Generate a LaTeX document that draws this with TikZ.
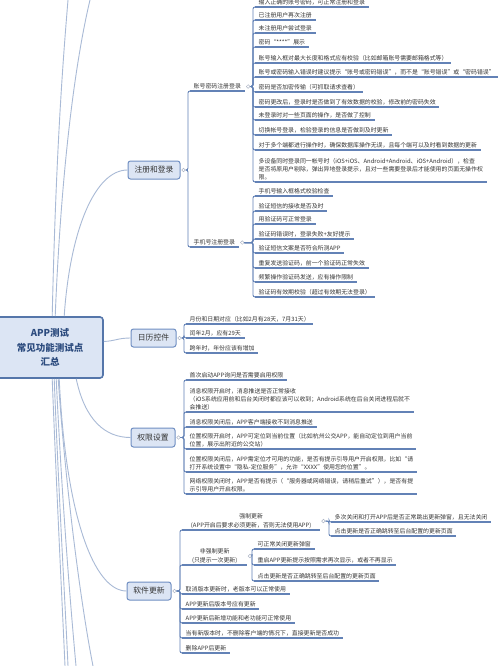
\documentclass[tikz,border=0pt]{standalone}
\usepackage{fontspec}
\setmainfont{Noto Sans CJK SC}
\newfontfamily\fwqfont[RawFeature=+fwid]{Noto Sans CJK SC}
\newcommand\qo{{\fwqfont “}}
\newcommand\qc{{\fwqfont ”}}
\usetikzlibrary{calc}
\definecolor{ulc}{HTML}{6382B6}
\definecolor{trk}{HTML}{A9BAD6}
\definecolor{boxf}{HTML}{DCE5F4}
\definecolor{boxb}{HTML}{6F8EC2}
\definecolor{rootb}{HTML}{5576AA}
\definecolor{roott}{HTML}{2C4B7E}
\definecolor{txt}{HTML}{353535}
\definecolor{hdlc}{HTML}{AEB6C6}
\tikzset{
  leaf/.style={anchor=south west, inner xsep=3.5pt, inner ysep=1.5pt, align=left,
    font=\fontsize{5.9}{8.3}\selectfont, text=txt},
  ul/.style={draw=ulc, line width=1.1pt},
  br/.style={draw=ulc, line width=0.9pt, rounded corners=2pt},
  box/.style={draw=boxb, fill=boxf, line width=1pt, rounded corners=2.5pt,
    font=\fontsize{7.8}{9}\selectfont, text=txt, inner sep=0, minimum height=18pt},
  rootbox/.style={draw=rootb, fill=boxf, line width=1.6pt, rounded corners=3pt,
    font=\fontsize{9.5}{14.5}\selectfont\bfseries, text=roott, align=center,
    inner sep=0, minimum width=106pt, minimum height=61pt},
  hdl/.style={circle, draw=hdlc, line width=0.5pt, fill=white, inner sep=0,
    minimum size=3.6pt, anchor=west},
  trunk/.style={draw=trk, line width=0.9pt}
}
\begin{document}
\begin{tikzpicture}[x=1pt,y=-1pt]
\useasboundingbox (0,0) rectangle (500,666);
\clip (0,0) rectangle (500,666);
\fill[white] (0,0) rectangle (500,666);

% root and first-level boxes
\node[rootbox] (root) at (50,347.5) {APP测试\\常见功能测试点\\汇总};
\node[box, minimum width=52pt] (L1) at (154,170) {注册和登录};
\node[box, minimum width=45pt] (L2) at (153.5,338) {日历控件};
\node[box, minimum width=44pt, minimum height=19pt] (L3) at (153,437.5) {权限设置};
\node[box, minimum width=44pt] (L4) at (149,591) {软件更新};

% off-frame ends of trunk lines
\coordinate (o1) at (68,0);
\coordinate (o2) at (90,0);
\coordinate (o3) at (65,666);
\coordinate (o4) at (68,666);
\coordinate (o5) at (76,666);
\coordinate (o6) at (93,666);

\draw[trunk] ($(root.north west)+(68,0)$) .. controls (70,230) and (95,170) .. (L1.west);
\draw[trunk] ($(root.east)+(0,-6)$) .. controls (115,341) and (118,338) .. (L2.west);
\draw[trunk] ($(root.south west)+(80,0)$) .. controls (85,420) and (105,437.5) .. (L3.west);
\draw[trunk] ($(root.south west)+(63,0)$) .. controls (66,520) and (95,591) .. (L4.west);
\draw[trunk] ($(root.north west)+(56,0)$) .. controls (56,150) and (63,60) .. (o1);
\draw[trunk] ($(root.north west)+(59,0)$) .. controls (62,150) and (78,50) .. (o2);
\draw[trunk] ($(root.south west)+(56,0)$) .. controls (57,500) and (62,600) .. (o3);
\draw[trunk] ($(root.south west)+(58,0)$) .. controls (59,500) and (65,600) .. (o4);
\draw[trunk] ($(root.south west)+(60,0)$) .. controls (62,500) and (70,600) .. (o5);
\draw[trunk] ($(root.south west)+(62,0)$) .. controls (65,480) and (80,600) .. (o6);

% ---------- 注册和登录 ----------
\node[leaf] (P1) at (190,91) {账号密码注册登录};
\node[leaf] (P2) at (190,247) {手机号注册登录};

\node[leaf] (a1) at (255,7) {输入正确的账号密码，可正常注册和登录};
\node[leaf] (a2) at (255,20) {已注册用户再次注册};
\node[leaf] (a3) at (255,33) {未注册用户尝试登录};
\node[leaf] (a4) at (255,47) {密码\qo****\qc 展示};
\node[leaf] (a5) at (255,63) {账号输入框对最大长度和格式应有校验（比如邮箱账号需要邮箱格式等）};
\node[leaf] (a6) at (255,77) {账号或密码输入错误时建议提示\qo 账号或密码错误\qc ，而不是\qo 账号错误\qc 或\qo 密码错误\qc};
\node[leaf] (a7) at (255,92) {密码是否加密传输（可抓取请求查看）};
\node[leaf] (a8) at (255,107) {密码更改后，登录时是否做到了有效数据的校验，修改前的密码失效};
\node[leaf] (a9) at (255,120) {未登录时对一些页面的操作，是否做了控制};
\node[leaf] (a10) at (255,135) {切换帐号登录，检验登录的信息是否做到及时更新};
\node[leaf] (a11) at (255,150) {对于多个端都进行操作时，确保数据库操作无误，且每个端可以及时看到数据的更新};
\node[leaf] (a12) at (255,182) {多设备同时登录同一帐号时（iOS+iOS、Android+Android、iOS+Android），检查\\是否将原用户剔除，弹出异地登录提示，且对一些需要登录后才能使用的页面无操作权\\限。};

\node[leaf] (b1) at (255,196) {手机号输入框格式校验检查};
\node[leaf] (b2) at (255,211) {验证短信的接收是否及时};
\node[leaf] (b3) at (255,224) {用验证码可正常登录};
\node[leaf] (b4) at (255,239) {验证码错误时，登录失败+友好提示};
\node[leaf] (b5) at (255,253) {验证短信文案是否符合所测APP};
\node[leaf] (b6) at (255,268) {重复发送验证码，前一个验证码正常失效};
\node[leaf] (b7) at (255,282) {频繁操作验证码发送，应有操作限制};
\node[leaf] (b8) at (255,297) {验证码有效期校验（超过有效期无法登录）};

% ---------- 日历控件 ----------
\node[leaf] (c1) at (186,324) {月份和日期对应（比如2月有28天，7月31天）};
\node[leaf] (c2) at (186,338) {闰年2月，应有29天};
\node[leaf] (c3) at (186,353) {跨年时，年份应该有增加};

% ---------- 权限设置 ----------
\node[leaf] (d1) at (186,380) {首次启动APP询问是否需要启用权限};
\node[leaf] (d2) at (186,412) {消息权限开启时，消息推送是否正常接收\\（iOS系统应用前和后台关闭时都应该可以收到；Android系统在后台关闭进程后就不\\会推送）};
\node[leaf] (d3) at (186,427) {消息权限关闭后，APP客户端接收不到消息推送};
\node[leaf] (d4) at (186,449) {位置权限开启时，APP可定位到当前位置（比如杭州公交APP，能自动定位到用户当前\\位置，展示出附近的公交站）};
\node[leaf] (d5) at (186,472) {位置权限关闭后，APP需定位才可用的功能，是否有提示引导用户开启权限，比如\qo 请\\打开系统设置中\qo 隐私-定位服务\qc ，允许\qo XXXX\qc 使用您的位置\qc 。};
\node[leaf] (d6) at (186,494) {网络权限关闭时，APP是否有提示（\qo 服务器或网络错误，请稍后重试\qc ），是否有提\\示引导用户开启权限。};

% ---------- 软件更新 ----------
\node[leaf, align=center, minimum width=138pt] (e1) at (182,530) {强制更新\\(APP开启后要求必须更新，否则无法使用APP)};
\node[leaf, align=center, minimum width=65pt] (e2) at (182,565) {非强制更新\\(只提示一次更新)};
\node[leaf] (e3) at (182,594) {取消版本更新时，老版本可以正常使用};
\node[leaf] (e4) at (182,609) {APP更新后版本号应有更新};
\node[leaf] (e5) at (182,623) {APP更新后新增功能和老功能可正常使用};
\node[leaf] (e6) at (182,638) {当有新版本时，不删除客户端的情况下，直接更新是否成功};
\node[leaf] (e7) at (182,653) {删除APP后更新};

\node[leaf] (f1) at (331,522) {多次关闭和打开APP后是否正常跳出更新弹窗，且无法关闭};
\node[leaf] (f2) at (331,536) {点击更新是否正确跳转至后台配置的更新页面};

\node[leaf] (g1) at (254,549) {可正常关闭更新弹窗};
\node[leaf] (g2) at (254,565) {重启APP更新提示按照需求再次显示，或者不再显示};
\node[leaf] (g3) at (254,581) {点击更新是否正确跳转至后台配置的更新页面};

% underlines
\foreach \n in {P1,P2,a1,a2,a3,a4,a5,a6,a7,a8,a9,a10,a11,a12,b1,b2,b3,b4,b5,b6,b7,b8,
  c1,c2,c3,d1,d2,d3,d4,d5,d6,e1,e2,e3,e4,e5,e6,e7,f1,f2,g1,g2,g3}
  \draw[ul] (\n.south west) -- (\n.south east);

% handles
\node[hdl] (hL1) at ([xshift=1pt]L1.east) {};
\node[hdl] (hL2) at ([xshift=1pt]L2.east) {};
\node[hdl] (hL3) at ([xshift=1pt]L3.east) {};
\node[hdl] (hL4) at ([xshift=1pt]L4.east) {};
\node[hdl] (hP1) at ([xshift=1.5pt]P1.east) {};
\node[hdl] (hP2) at ([xshift=1.5pt]P2.east) {};
\node[hdl] (hE1) at ([xshift=1pt]e1.east) {};
\node[hdl] (hE2) at ([xshift=0.5pt]e2.east) {};

% brackets
\foreach \h/\cs in {hL1/{P1,P2},
  hP1/{a1,a2,a3,a4,a5,a6,a7,a8,a9,a10,a11,a12},
  hP2/{b1,b2,b3,b4,b5,b6,b7,b8},
  hL2/{c1,c2,c3},
  hL3/{d1,d2,d3,d4,d5,d6},
  hL4/{e1,e2,e3,e4,e5,e6,e7},
  hE1/{f1,f2},
  hE2/{g1,g2,g3}}
  \foreach \c in \cs
    \draw[br] (\h.east) -| ($(\c.south west)+(-2,0)$) -- (\c.south west);
\end{tikzpicture}
\end{document}
